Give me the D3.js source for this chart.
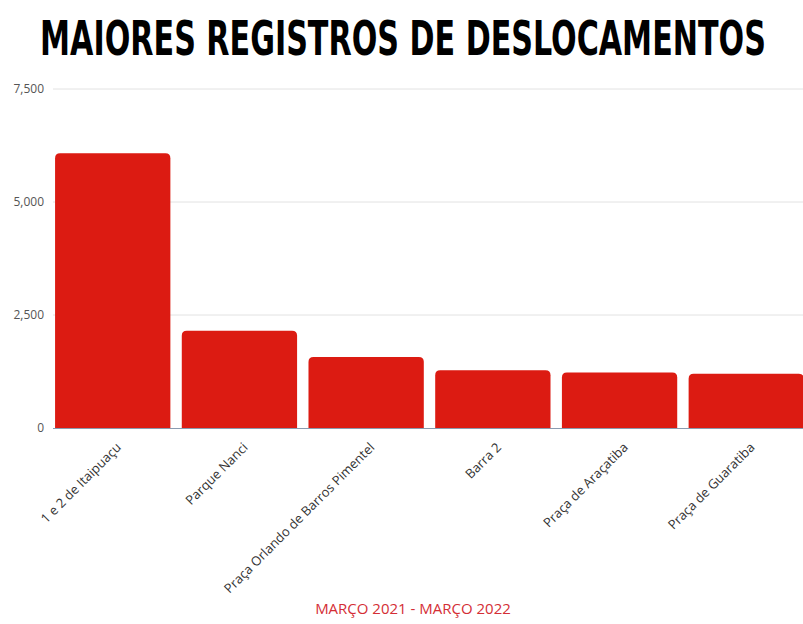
<!DOCTYPE html>
<html><head><meta charset="utf-8">
<script src="https://cdn.jsdelivr.net/npm/d3@7"></script>
<style>body{margin:0;background:#fff;} svg{display:block;}</style>
</head><body>
<svg id="c" width="803" height="624"></svg>
<script>
const categories = ["1 e 2 de Itaipuaçu","Parque Nanci","Praça Orlando de Barros Pimentel","Barra 2","Praça de Araçatiba","Praça de Guaratiba"];
const values = [6080, 2150, 1570, 1280, 1230, 1200];
const yTicks = [0, 2500, 5000, 7500];
const title = "MAIORES REGISTROS DE DESLOCAMENTOS";
const subtitle = "MARÇO 2021 - MARÇO 2022";

const svg = d3.select("#c");
const W = 803;
const x = d3.scaleBand().domain(categories).range([50, 809]).paddingInner(0.09).paddingOuter(0.04);
const y = d3.scaleLinear().domain([0, 7500]).range([428, 89]);

// title, condensed to fit the reference width
const tg = svg.append("g");
const tt = tg.append("text").attr("x", 0).attr("y", 0)
  .attr("text-anchor", "middle")
  .attr("font-family", "DejaVu Sans Condensed, DejaVu Sans")
  .attr("font-weight", "bold").attr("font-size", 48)
  .attr("fill", "#000").text(title);
const natural = tt.node().getComputedTextLength();
tg.attr("transform", `translate(403,55) scale(${726 / natural},1)`);

// grid
svg.append("g").selectAll("line").data(yTicks.filter(d => d > 0)).join("line")
  .attr("x1", 53).attr("x2", W).attr("y1", d => y(d)).attr("y2", d => y(d))
  .attr("stroke", "#e2e2e2").attr("stroke-width", 1);

const yAxis = svg.append("g").attr("transform", "translate(53,0)")
  .call(d3.axisLeft(y).tickValues(yTicks).tickFormat(d3.format(",")).tickSize(0).tickPadding(9));
yAxis.select(".domain").remove();
yAxis.selectAll("text").attr("font-family", "Open Sans").attr("font-size", 12).attr("fill", "#555");

// bars with rounded top corners
const r = 5;
svg.append("g").selectAll("path").data(categories).join("path")
  .attr("fill", "#dc1b12")
  .attr("d", (c, i) => {
    const x0 = x(c), x1 = x(c) + x.bandwidth(), yt = y(values[i]), yb = y(0);
    return `M${x0},${yb}V${yt + r}Q${x0},${yt} ${x0 + r},${yt}H${x1 - r}Q${x1},${yt} ${x1},${yt + r}V${yb}Z`;
  });

// baseline
svg.append("line").attr("x1", 53).attr("x2", W).attr("y1", y(0) + 0.5).attr("y2", y(0) + 0.5)
  .attr("stroke", "#8a9bb0").attr("stroke-width", 1);

// x labels
const xAxis = svg.append("g").attr("transform", `translate(0,${y(0)})`)
  .call(d3.axisBottom(x).tickSize(0).tickPadding(0));
xAxis.select(".domain").remove();
xAxis.selectAll("text")
  .attr("font-family", "Open Sans").attr("font-size", 13).attr("fill", "#333")
  .attr("text-anchor", "end")
  .attr("transform", "translate(6,17) rotate(-45)")
  .attr("dy", "0.35em").attr("y", 0);

svg.append("text").attr("x", 413).attr("y", 614).attr("text-anchor", "middle")
  .attr("font-family", "Open Sans").attr("font-size", 15).attr("fill", "#d42e36")
  .text(subtitle);
</script>
</body></html>
